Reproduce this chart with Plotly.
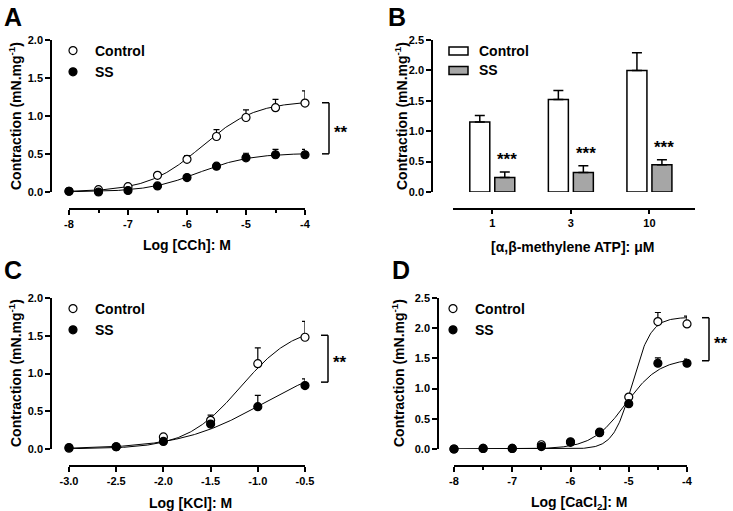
import numpy as np
import plotly.graph_objects as go

W, H = 733, 511
FONT = "Liberation Sans, Arial, sans-serif"

# ---------------- Data ----------------
# Panel A: carbachol
a_x = [-8, -7.5, -7, -6.5, -6, -5.5, -5, -4.5, -4]
a_ctrl = [0.01, 0.03, 0.07, 0.22, 0.43, 0.73, 0.98, 1.11, 1.17]
a_ctrl_err = [0.01, 0.01, 0.01, 0.03, 0.05, 0.09, 0.10, 0.11, 0.16]
a_ss = [0.01, 0.00, 0.02, 0.08, 0.19, 0.34, 0.45, 0.49, 0.49]
a_ss_err = [0.0, 0.0, 0.0, 0.01, 0.01, 0.02, 0.06, 0.07, 0.07]
a_fit_ctrl = dict(top=1.20, logec50=-5.75, hill=0.95)
a_fit_ss = dict(top=0.51, logec50=-5.80, hill=1.0)

# Panel B: alpha,beta-methylene ATP
b_cats = ["1", "3", "10"]
b_ctrl = [1.15, 1.52, 2.00]
b_ctrl_err = [0.11, 0.15, 0.29]
b_ss = [0.24, 0.32, 0.45]
b_ss_err = [0.09, 0.11, 0.08]
b_colors = {"Control": "white", "SS": "#a6a6a6"}

# Panel C: KCl
c_x = [-3.0, -2.5, -2.0, -1.5, -1.0, -0.5]
c_ctrl = [0.01, 0.03, 0.16, 0.38, 1.13, 1.48]
c_ctrl_err = [0.0, 0.0, 0.01, 0.07, 0.21, 0.21]
c_ss = [0.02, 0.03, 0.10, 0.33, 0.56, 0.84]
c_ss_err = [0.0, 0.0, 0.01, 0.02, 0.15, 0.09]
c_fit_ctrl = dict(top=1.65, logec50=-1.18, hill=1.5)
c_fit_ss = dict(top=1.20, logec50=-0.95, hill=1.0)

# Panel D: CaCl2
d_x = [-8, -7.5, -7, -6.5, -6, -5.5, -5, -4.5, -4]
d_ctrl = [0.0, 0.01, 0.01, 0.07, 0.12, 0.28, 0.86, 2.11, 2.07]
d_ctrl_err = [0.0, 0.0, 0.0, 0.01, 0.01, 0.02, 0.04, 0.15, 0.13]
d_ss = [0.0, 0.01, 0.01, 0.04, 0.11, 0.27, 0.75, 1.42, 1.42]
d_ss_err = [0.0, 0.0, 0.0, 0.01, 0.01, 0.01, 0.02, 0.09, 0.07]
d_fit_ctrl = dict(top=2.18, logec50=-4.94, hill=2.7)
d_fit_ss = dict(top=1.50, logec50=-5.05, hill=1.5)


def px(x):
    return x / W


def py(y):
    return 1 - y / H


def hill(xs, p):
    xs = np.asarray(xs, dtype=float)
    return p["top"] / (1 + 10 ** (p["hill"] * (p["logec50"] - xs)))


fig = go.Figure()

BOLD = dict(family=FONT, size=11, color="black", weight="bold")


def add_curve_panel(xs, ctrl, ctrl_err, ss, ss_err, fit_c, fit_s, xa, ya, leg):
    xx = np.linspace(min(xs), max(xs), 300)
    for p in (fit_c, fit_s):
        fig.add_trace(go.Scatter(x=xx, y=hill(xx, p), mode="lines",
                                 line=dict(color="black", width=1),
                                 showlegend=False, hoverinfo="skip",
                                 xaxis=xa, yaxis=ya, cliponaxis=False))
    fig.add_trace(go.Scatter(
        x=xs, y=ctrl, mode="markers", name="Control", legend=leg,
        marker=dict(symbol="circle", size=8, color="white",
                    line=dict(color="black", width=1.2)),
        error_y=dict(type="data", array=ctrl_err, arrayminus=[0] * len(xs),
                     symmetric=False, color="black", thickness=1.2, width=3),
        xaxis=xa, yaxis=ya, cliponaxis=False))
    fig.add_trace(go.Scatter(
        x=xs, y=ss, mode="markers", name="SS", legend=leg,
        marker=dict(symbol="circle", size=8, color="black",
                    line=dict(color="black", width=1.2)),
        error_y=dict(type="data", array=ss_err, arrayminus=[0] * len(xs),
                     symmetric=False, color="black", thickness=1.2, width=3),
        xaxis=xa, yaxis=ya, cliponaxis=False))


add_curve_panel(a_x, a_ctrl, a_ctrl_err, a_ss, a_ss_err, a_fit_ctrl, a_fit_ss, "x", "y", "legend")
add_curve_panel(c_x, c_ctrl, c_ctrl_err, c_ss, c_ss_err, c_fit_ctrl, c_fit_ss, "x3", "y3", "legend3")
add_curve_panel(d_x, d_ctrl, d_ctrl_err, d_ss, d_ss_err, d_fit_ctrl, d_fit_ss, "x4", "y4", "legend4")

# Panel B bars
fig.add_trace(go.Bar(x=b_cats, y=b_ctrl, name="Control", showlegend=False,
                     marker=dict(color=b_colors["Control"], line=dict(color="black", width=1.5)),
                     error_y=dict(type="data", array=b_ctrl_err, arrayminus=[0] * 3,
                                  symmetric=False, color="black", thickness=1.5, width=5),
                     xaxis="x2", yaxis="y2"))
fig.add_trace(go.Bar(x=b_cats, y=b_ss, name="SS", showlegend=False,
                     marker=dict(color=b_colors["SS"], line=dict(color="black", width=1.5)),
                     error_y=dict(type="data", array=b_ss_err, arrayminus=[0] * 3,
                                  symmetric=False, color="black", thickness=1.5, width=5),
                     xaxis="x2", yaxis="y2"))

axis_common = dict(showline=True, linecolor="black", linewidth=1.5, ticks="outside",
                   ticklen=5, tickwidth=1.5, tickcolor="black", showgrid=False,
                   zeroline=False, tickfont=BOLD, anchor="free", fixedrange=True,
                   automargin=False)


def yaxis(dom_top, dom_bot, xpos, rng):
    vals = list(np.arange(0, rng + 0.001, 0.5))
    return dict(axis_common, domain=[py(dom_bot), py(dom_top)], position=px(xpos),
                range=[0, rng], tickvals=vals, ticktext=[f"{v:.1f}" for v in vals])


def xaxis_num(left, right, ypos, vals, fmt, minor):
    d = dict(axis_common, domain=[px(left), px(right)], position=py(ypos),
             range=[min(vals), max(vals)], tickvals=vals,
             ticktext=[fmt.format(v) for v in vals])
    if minor:
        d["minor"] = dict(dtick=0.5, tick0=min(vals), ticks="outside", ticklen=3,
                          tickwidth=1.5, tickcolor="black", showgrid=False)
    return d


fig.update_layout(
    width=W, height=H, margin=dict(l=0, r=0, t=0, b=0, pad=0, autoexpand=False),
    paper_bgcolor="white", plot_bgcolor="white",
    font=dict(family=FONT, color="black"),
    barmode="group", bargap=0.364, bargroupgap=0.2,
    xaxis=xaxis_num(69, 305, 209, [-8, -7, -6, -5, -4], "{:g}", True),
    yaxis=yaxis(40, 192, 51, 2.0),
    xaxis2=dict(axis_common, domain=[px(453), px(695)], position=py(209),
                type="category", range=[-0.5, 2.58], ticklen=4),
    yaxis2=yaxis(40, 192, 432, 2.5),
    xaxis3=xaxis_num(69, 305, 466, [-3.0, -2.5, -2.0, -1.5, -1.0, -0.5], "{:.1f}", False),
    yaxis3=yaxis(298, 449, 51, 2.0),
    xaxis4=xaxis_num(454, 687, 466, [-8, -7, -6, -5, -4], "{:g}", True),
    yaxis4=yaxis(298, 449, 438, 2.5),
    showlegend=True,
)

LEGFONT = dict(family=FONT, size=14, color="black", weight="bold")
leg_common = dict(font=LEGFONT, bgcolor="rgba(0,0,0,0)", xanchor="left", yanchor="top",
                  tracegroupgap=0, itemwidth=34)
fig.update_layout(
    legend=dict(leg_common, x=px(51), y=py(35)),
    legend3=dict(leg_common, x=px(51), y=py(293)),
    legend4=dict(leg_common, x=px(431), y=py(293)),
)

annotations = []
shapes = []

# legend of panel B (wide flat swatches as in the original)
for i, name in enumerate(["Control", "SS"]):
    yc = 51 + 19.5 * i
    shapes.append(dict(type="rect", xref="paper", yref="paper",
                       x0=px(449), x1=px(468), y0=py(yc - 4), y1=py(yc + 4),
                       fillcolor=b_colors[name], line=dict(color="black", width=1.5)))
    annotations.append(dict(text=name, x=px(477), y=py(yc), xref="paper", yref="paper",
                            xanchor="left", yanchor="middle", showarrow=False, font=LEGFONT))

# panel letters
for letter, x, y in [("A", 2, 1), ("B", 386, 1), ("C", 2, 254), ("D", 390, 254)]:
    annotations.append(dict(text=letter, x=px(x), y=py(y), xref="paper", yref="paper",
                            xanchor="left", yanchor="top", showarrow=False,
                            font=dict(family=FONT, size=25, color="black", weight="bold")))

# axis titles
TITLE = dict(family=FONT, size=14, color="black", weight="bold")
ytitle = "Contraction (mN.mg<sup>-1</sup>)"
for x, y in [(15, 116), (401, 116), (15, 373), (398, 373)]:
    annotations.append(dict(text=ytitle, x=px(x), y=py(y), xref="paper", yref="paper",
                            textangle=-90, showarrow=False, font=TITLE,
                            xanchor="center", yanchor="middle"))
for text, x, y in [("Log [CCh]: M", 187, 245), ("[α,β-methylene ATP]: μM", 572, 247),
                   ("Log [KCl]: M", 190, 503), ("Log [CaCl<sub>2</sub>]: M", 579, 503)]:
    annotations.append(dict(text=text, x=px(x), y=py(y), xref="paper", yref="paper",
                            showarrow=False, font=TITLE, xanchor="center", yanchor="middle"))

# significance brackets (x in paper anchored at the axis' right end, y in data)
STAR = dict(family=FONT, size=17, color="black", weight="bold")


def bracket(ya, xright_px, top, bot, off):
    xa = px(xright_px)
    for (y0, y1, x0, x1) in [(top, top, off - 7, off), (bot, bot, off - 7, off), (bot, top, off, off)]:
        shapes.append(dict(type="line", xref="paper", yref=ya, xsizemode="pixel", xanchor=xa,
                           x0=x0, x1=x1, y0=y0, y1=y1, line=dict(color="black", width=1.5)))
    annotations.append(dict(text="**", x=xa, y=(top + bot) / 2, xref="paper", yref=ya,
                            xshift=off + 12, yshift=-4, showarrow=False, font=STAR,
                            xanchor="center", yanchor="middle"))


bracket("y", 305, float(hill(a_x[-1], a_fit_ctrl)), float(hill(a_x[-1], a_fit_ss)), 24)
bracket("y3", 305, float(hill(c_x[-1], c_fit_ctrl)), float(hill(c_x[-1], c_fit_ss)), 23)
bracket("y4", 687, float(hill(d_x[-1], d_fit_ctrl)), float(hill(d_x[-1], d_fit_ss)), 22)

# B significance stars over SS bars
for i, (v, e) in enumerate(zip(b_ss, b_ss_err)):
    annotations.append(dict(text="***", x=i, y=v + e, xref="x2", yref="y2",
                            xshift=15, yshift=1, showarrow=False, font=STAR,
                            xanchor="center", yanchor="bottom"))

fig.update_layout(annotations=annotations, shapes=shapes)
fig.write_html("out.html", config={"displayModeBar": False},
               post_script="document.body.style.margin='0';document.body.style.padding='0';")
